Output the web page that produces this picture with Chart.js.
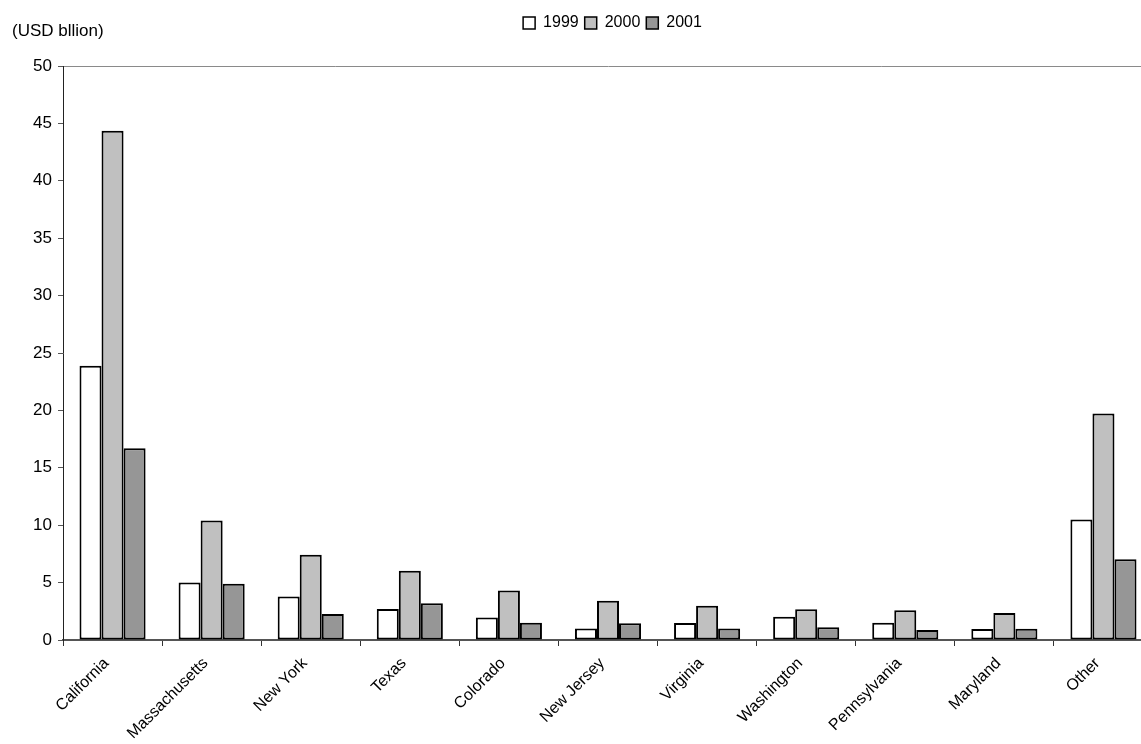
<!DOCTYPE html>
<html>
<head>
<meta charset="utf-8">
<script src="https://cdn.jsdelivr.net/npm/chart.js@4/dist/chart.umd.min.js"></script>
<style>
	html, body { margin: 0; padding: 0; background: #fff; overflow: hidden; }
	#wrap { position: relative; width: 1160px; height: 744px; }
</style>
</head>
<body>
<div id="wrap"><canvas id="vc-chart"></canvas></div>
<script>
/* global Chart */
'use strict';

var states = [ 'California', 'Massachusetts', 'New York', 'Texas', 'Colorado', 'New Jersey',
	'Virginia', 'Washington', 'Pennsylvania', 'Maryland', 'Other' ];
var years = [ '1999', '2000', '2001' ];
var values1999 = [ 23.9, 5.0, 3.8, 2.7, 1.97, 1.0, 1.48, 2.03, 1.5, 0.96, 10.5 ];
var values2000 = [ 44.35, 10.4, 7.42, 6.03, 4.32, 3.42, 2.98, 2.67, 2.6, 2.35, 19.74 ];
var values2001 = [ 16.7, 4.9, 2.26, 3.2, 1.5, 1.45, 1.0, 1.1, 0.87, 0.98, 7.04 ];
var yTicks = [ 0, 5, 10, 15, 20, 25, 30, 35, 40, 45, 50 ];
var unitLabel = '(USD bllion)';

var fills = [ '#ffffff', '#c0c0c0', '#969696' ];
var seriesValues = [ values1999, values2000, values2001 ];
var font = 'Liberation Sans, Arial, sans-serif';

Chart.defaults.font.family = font;
Chart.defaults.font.size = 16;
Chart.defaults.color = '#000';

// Unit label in the top left corner, legend nudged right like the original.
var unitPlugin = {
	id: 'unitLabel',
	afterLayout: function ( chart ) {
		if ( chart.legend ) {
			chart.legend.left += 72;
		}
	},
	afterDraw: function ( chart ) {
		var ctx = chart.ctx;
		ctx.save();
		ctx.font = '17px ' + font;
		ctx.fillStyle = '#000';
		ctx.textAlign = 'left';
		ctx.textBaseline = 'middle';
		ctx.fillText( unitLabel, 12, 31 );
		ctx.restore();
	}
};

var datasets = years.map( function ( year, i ) {
	return {
		label: year,
		data: seriesValues[ i ],
		backgroundColor: fills[ i ],
		borderColor: '#000',
		borderWidth: 2,
		borderSkipped: false,
		categoryPercentage: 0.667,
		barPercentage: 1
	};
} );

new Chart( document.getElementById( 'vc-chart' ).getContext( '2d' ), {
	type: 'bar',
	data: { labels: states, datasets: datasets },
	plugins: [ unitPlugin ],
	options: {
		responsive: true,
		maintainAspectRatio: false,
		animation: false,
		layout: { padding: { top: 9, right: 7, left: 0, bottom: 0 } },
		plugins: {
			tooltip: { enabled: false },
			legend: {
				position: 'top',
				labels: {
					boxWidth: 12,
					boxHeight: 12,
					padding: 6,
					color: '#000',
					font: { size: 16 },
					generateLabels: function ( chart ) {
						return chart.data.datasets.map( function ( ds, i ) {
							return {
								text: ds.label,
								fillStyle: ds.backgroundColor,
								strokeStyle: '#000',
								lineWidth: 1.5,
								datasetIndex: i
							};
						} );
					}
				}
			}
		},
		scales: {
			x: {
				offset: true,
				grid: {
					display: true,
					drawOnChartArea: false,
					drawTicks: true,
					tickLength: 6,
					color: '#333',
					offset: true
				},
				border: { color: '#555', width: 2 },
				ticks: {
					minRotation: 45,
					maxRotation: 45,
					autoSkip: false,
					padding: 8,
					labelOffset: -6,
					color: '#000'
				},
				afterFit: function ( scale ) { scale.height = 104; }
			},
			xTop: {
				position: 'top',
				grid: { display: false },
				border: { color: '#8a8a8a', width: 1 },
				ticks: { display: false },
				afterFit: function ( scale ) { scale.height = 25; }
			},
			y: {
				min: 0,
				max: 50,
				afterBuildTicks: function ( scale ) {
					scale.ticks = yTicks.map( function ( v ) { return { value: v }; } );
				},
				grid: {
					drawOnChartArea: false,
					drawTicks: true,
					tickLength: 5,
					color: '#555'
				},
				border: { color: '#222', width: 1 },
				ticks: { padding: 6, color: '#000', font: { size: 17 } },
				afterFit: function ( scale ) { scale.width = 63; }
			}
		}
	}
} );
</script>
</body>
</html>
